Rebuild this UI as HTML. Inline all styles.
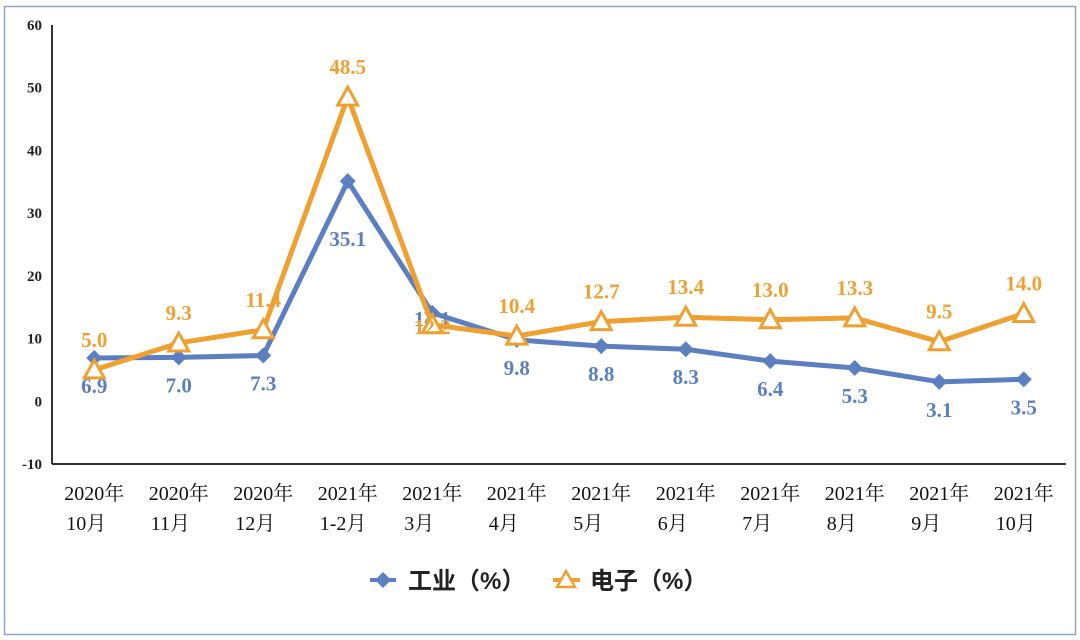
<!DOCTYPE html>
<html><head><meta charset="utf-8"><style>
body{margin:0;background:#fff;}
svg{display:block;font-family:"Liberation Serif","Noto Serif CJK SC",serif;}
</style></head><body>
<svg id="chart" width="1080" height="640" viewBox="0 0 1080 640" xmlns="http://www.w3.org/2000/svg">
<rect x="4.5" y="6.5" width="1071" height="628" fill="#fff" stroke="#8ea4c8" stroke-width="1.5"/>
<g id="axes"></g><g id="series"></g>
<g>
<line x1="370" y1="580" x2="396" y2="580" stroke="#5b7fc0" stroke-width="4"/>
<path d="M383 572 L391 580 L383 588 L375 580Z" fill="#5b7fc0"/>
<text x="408" y="589" font-size="24" font-weight="bold" fill="#222" font-family="Liberation Sans,Noto Sans CJK SC,sans-serif">工业（%）</text>
<line x1="553" y1="580" x2="580" y2="580" stroke="#f0a030" stroke-width="4"/>
<path d="M566 571 L575 587 L557 587Z" fill="#fff" stroke="#f0a030" stroke-width="2.5"/>
<text x="590" y="589" font-size="24" font-weight="bold" fill="#222" font-family="Liberation Sans,Noto Sans CJK SC,sans-serif">电子（%）</text>
</g>
</svg>
<script>
const catYears=["2020年","2020年","2020年","2021年","2021年","2021年","2021年","2021年","2021年","2021年","2021年","2021年"];
const catMonths=["10月","11月","12月","1-2月","3月","4月","5月","6月","7月","8月","9月","10月"];
const industry=[6.9,7.0,7.3,35.1,14.1,9.8,8.8,8.3,6.4,5.3,3.1,3.5];
const electronics=[5.0,9.3,11.4,48.5,12.2,10.4,12.7,13.4,13.0,13.3,9.5,14.0];
const yTicks=[-10,0,10,20,30,40,50,60];
const NS="http://www.w3.org/2000/svg";
const X0=52,X1=1066,Ytop=25,Ybot=464,ymin=-10,ymax=60;
const xs=i=>X0+(X1-X0)/catMonths.length*(i+0.5);
const ys=v=>Ybot-(v-ymin)/(ymax-ymin)*(Ybot-Ytop);
function mk(tag,attrs,parent){const e=document.createElementNS(NS,tag);for(const k in attrs)e.setAttribute(k,attrs[k]);parent.appendChild(e);return e;}
const axes=document.getElementById('axes'),ser=document.getElementById('series');
let e=mk('line',{x1:X0,y1:Ytop,x2:X0,y2:Ybot,stroke:'#333','stroke-width':2},axes);


e=mk('line',{x1:X0,y1:Ybot,x2:X1,y2:Ybot,stroke:'#333','stroke-width':2},axes);


yTicks.forEach(t=>{const el=mk('text',{x:42,y:ys(t)+5,'text-anchor':'end','font-size':15,'font-weight':'bold',fill:'#222'},axes);el.textContent=t;

});
catMonths.forEach((m,i)=>{const a=mk('text',{x:xs(i),y:500,'text-anchor':'middle','font-size':20,fill:'#111'},axes);a.textContent=catYears[i];


const b=mk('text',{x:xs(i)-28,y:530,'font-size':20,fill:'#111'},axes);b.textContent=m;

});
function draw(vals,color,name,marker,labelDy){
const p=mk('polyline',{points:vals.map((v,i)=>xs(i)+','+ys(v)).join(' '),fill:'none',stroke:color,'stroke-width':5,'stroke-linejoin':'round'},ser);


vals.forEach((v,i)=>{const x=xs(i),y=ys(v);let m;
if(marker==='d')m=mk('path',{d:`M${x} ${y-8}L${x+8} ${y}L${x} ${y+8}L${x-8} ${y}Z`,fill:color},ser);
else m=mk('path',{d:`M${x} ${y-10}L${x+10} ${y+8}L${x-10} ${y+8}Z`,fill:'#fff',stroke:color,'stroke-width':3},ser);


const t=mk('text',{x:x,y:y+labelDy(i)+7,'text-anchor':'middle','font-size':21,'font-weight':'bold',fill:color},ser);t.textContent=v.toFixed(1);

});}
draw(industry,'#5b7fc0','industry','d',i=>i===3?58:i===4?6:28);
draw(electronics,'#f0a030','electronics','t',i=>i===4?2:-30);
</script>
</body></html>
